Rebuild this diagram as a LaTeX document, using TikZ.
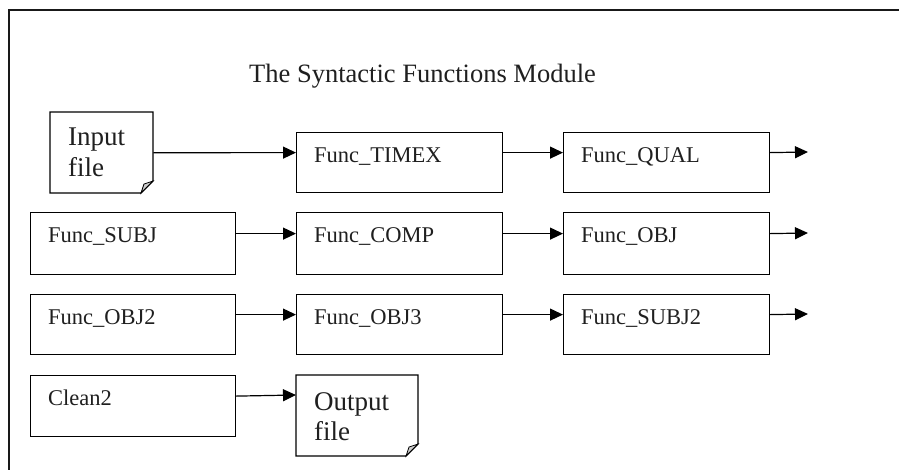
\documentclass[tikz,border=0pt]{standalone}
\usepackage{fontspec}
\setmainfont{Liberation Serif}
\usetikzlibrary{arrows.meta,calc}
\begin{document}
\begin{tikzpicture}[x=1pt,y=-1pt,
  box/.style={draw=black,line width=1.2pt,rectangle,inner sep=0pt,anchor=north west},
  txt/.style={anchor=base west,inner sep=0pt,font=\fontsize{22.5}{27}\selectfont,text=black!88},
  doctxt/.style={anchor=base west,inner sep=0pt,align=left,font=\fontsize{27}{31}\selectfont,text=black!88},
  arr/.style={line width=1.2pt,-{Triangle[length=13pt,width=12pt]}},
  frame/.style={line width=1.6pt,draw=black!90}]
\useasboundingbox (0,0) rectangle (899,469);
% outer frame (only top and left edges visible)
\draw[frame] (9,475) -- (9,10) -- (905,10);
% title
\node[anchor=base west,inner sep=0pt,font=\fontsize{26.5}{30}\selectfont,text=black!88] (title) at (249,82) {The Syntactic Functions Module};
% input document
\draw[line width=1.2pt] (50,112) -- (153,112) -- (153,181) -- (141,193) -- (50,193) -- cycle;
\draw[line width=0.8pt,fill=black!20] (153,181) -- (141,193) -- (144,184) -- cycle;
\node[inner sep=0pt,minimum width=103pt,minimum height=81pt,anchor=north west] (input) at (50,112) {};
\node[doctxt] at (68,145) {Input};
\node[doctxt] at (68,176) {file};
% output document
\draw[line width=1.2pt] (296,375) -- (418,375) -- (418,444) -- (406,456) -- (296,456) -- cycle;
\draw[line width=0.8pt,fill=black!20] (418,444) -- (406,456) -- (409,447) -- cycle;
\node[inner sep=0pt,minimum width=122pt,minimum height=81pt,anchor=north west] (output) at (296,375) {};
\node[doctxt] at (314,410) {Output};
\node[doctxt] at (314,440) {file};
% row 1
\node[box,minimum width=206pt,minimum height=60pt] (timex) at (296,132) {};
\node[box,minimum width=206pt,minimum height=60pt] (qual) at (563,132) {};
% row 2
\node[box,minimum width=205pt,minimum height=62pt] (subj) at (30,212) {};
\node[box,minimum width=206pt,minimum height=62pt] (comp) at (296,212) {};
\node[box,minimum width=206pt,minimum height=62pt] (obj) at (563,212) {};
% row 3
\node[box,minimum width=205pt,minimum height=60pt] (obj2) at (30,294) {};
\node[box,minimum width=206pt,minimum height=60pt] (obj3) at (296,294) {};
\node[box,minimum width=206pt,minimum height=60pt] (subj2) at (563,294) {};
% row 4
\node[box,minimum width=205pt,minimum height=61pt] (clean) at (30,375) {};
% labels
\foreach \n/\t in {timex/Func\_TIMEX,qual/Func\_QUAL,subj/Func\_SUBJ,comp/Func\_COMP,obj/Func\_OBJ,obj2/Func\_OBJ2,obj3/Func\_OBJ3,subj2/Func\_SUBJ2,clean/Clean2}
  \node[txt] at ($(\n.north west)+(18,30)$) {\t};
% free ends
\coordinate (e1) at (808,152);
\coordinate (e2) at (808,233);
\coordinate (e3) at (808,314);
% connectors
\draw[arr] (input.east) -- ([yshift=10pt]timex.west);
\draw[arr] ([yshift=10pt]timex.east) -- ([yshift=10pt]qual.west);
\draw[arr] ([yshift=10pt]qual.east) -- (e1);
\draw[arr] ([yshift=10pt]subj.east) -- ([yshift=10pt]comp.west);
\draw[arr] ([yshift=10pt]comp.east) -- ([yshift=10pt]obj.west);
\draw[arr] ([yshift=10pt]obj.east) -- (e2);
\draw[arr] ([yshift=10pt]obj2.east) -- ([yshift=10pt]obj3.west);
\draw[arr] ([yshift=10pt]obj3.east) -- ([yshift=10pt]subj2.west);
\draw[arr] ([yshift=10pt]subj2.east) -- (e3);
\draw[arr] ([yshift=10pt]clean.east) -- (output.west |- 0,395);
\end{tikzpicture}
\end{document}
